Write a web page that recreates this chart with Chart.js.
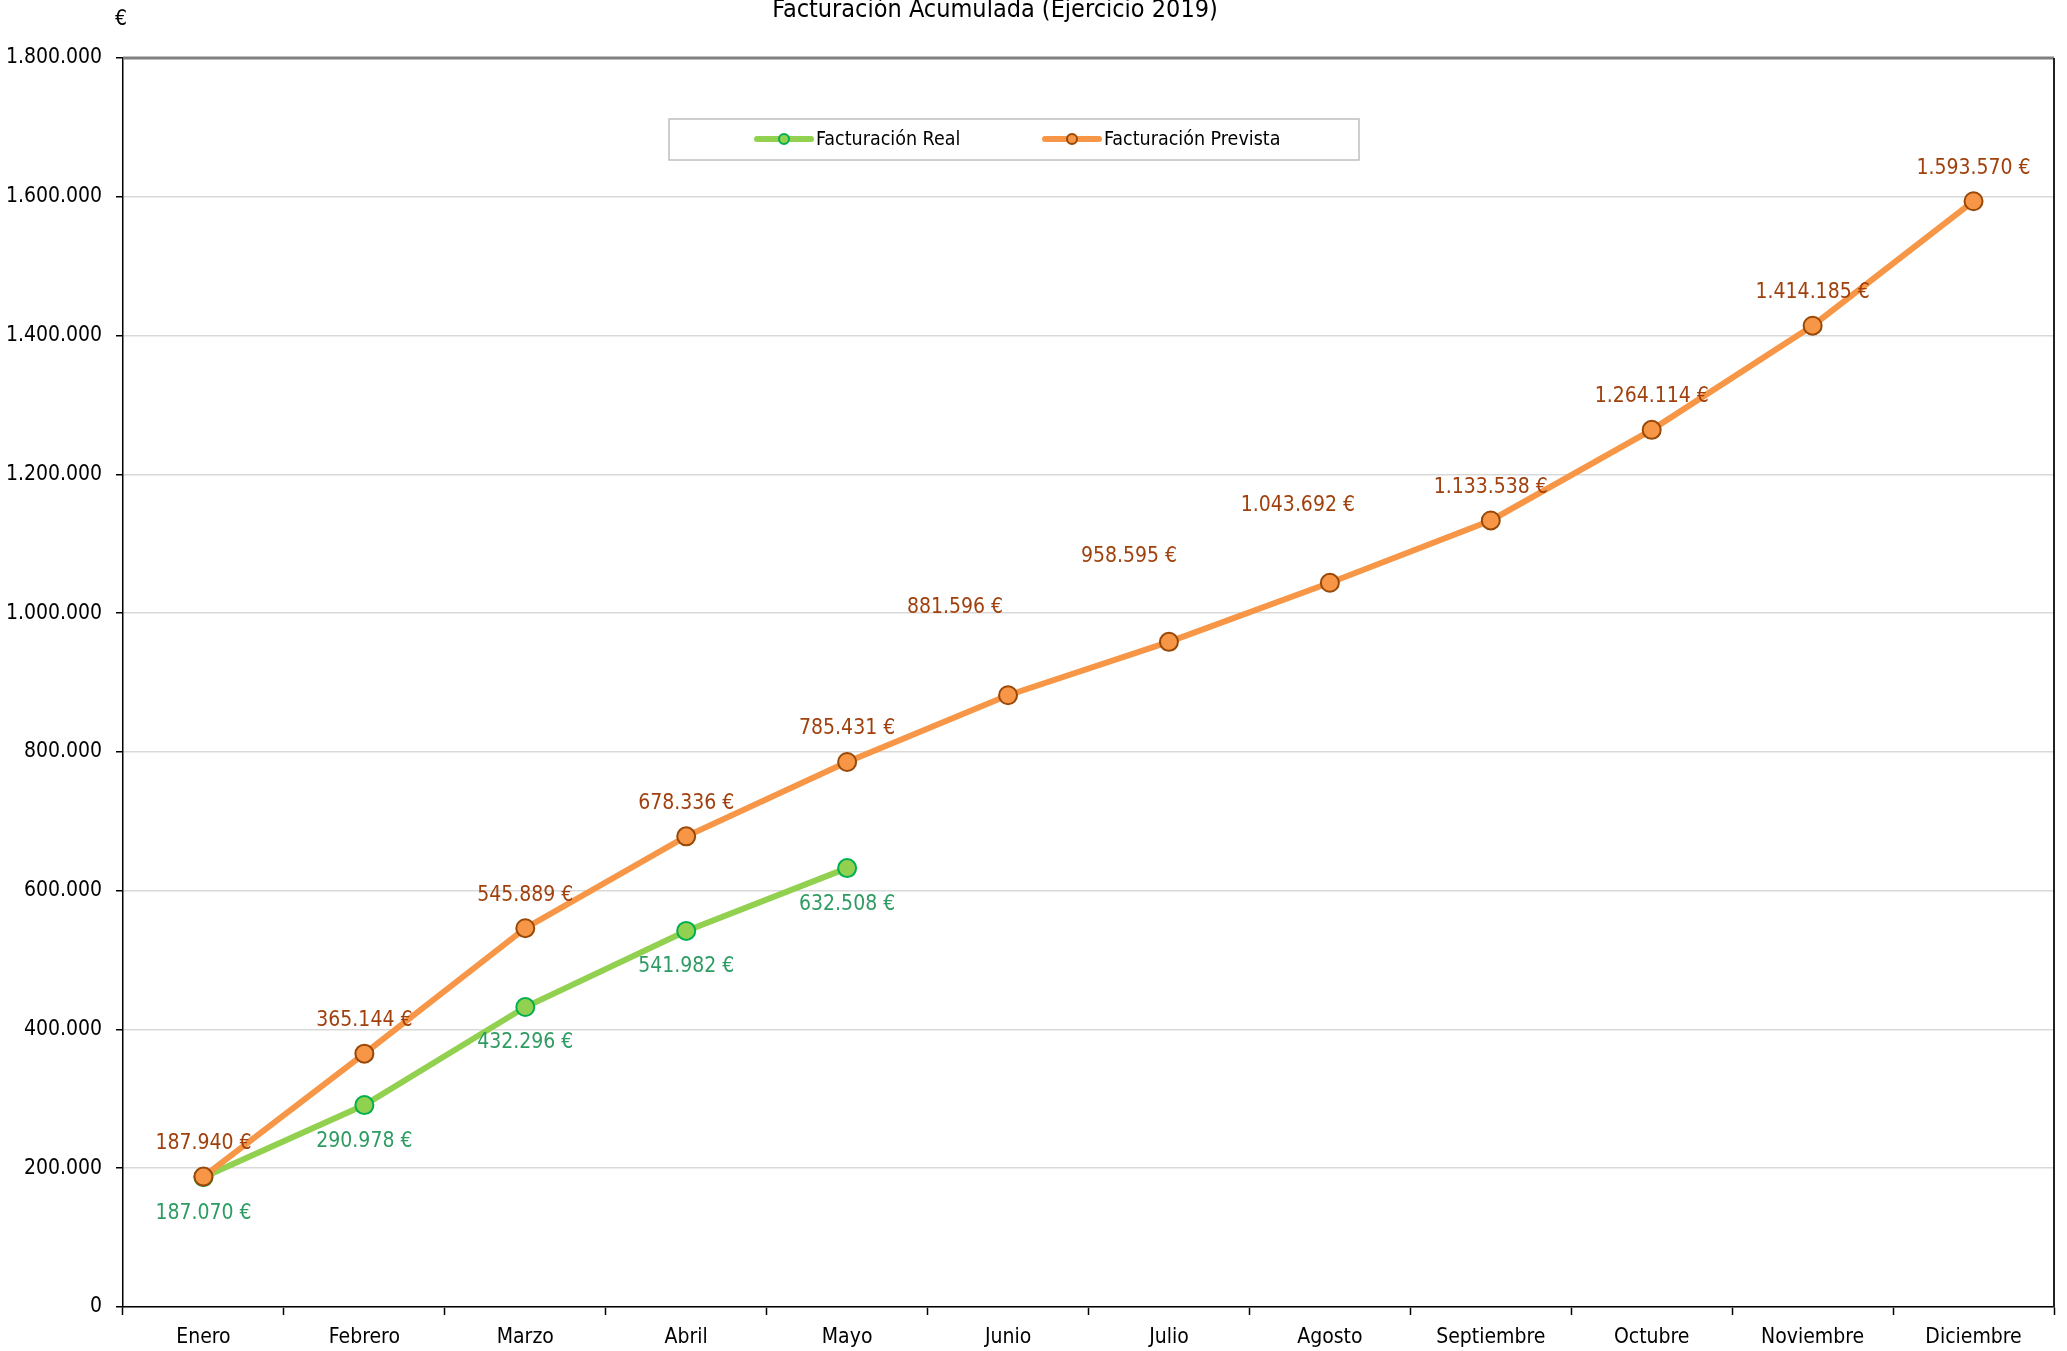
<!DOCTYPE html>
<html lang="es">
<head>
<meta charset="utf-8">
<title>Facturación Acumulada (Ejercicio 2019)</title>
<script src="https://cdn.jsdelivr.net/npm/chart.js@4.4.1/dist/chart.umd.min.js"></script>
<style>
  html, body { margin: 0; padding: 0; background: #fff; }
  #wrap { width: 2067px; height: 1351px; }
</style>
</head>
<body>
<div id="wrap"><canvas id="chart" width="2067" height="1351"></canvas></div>
<script>
const months = ['Enero', 'Febrero', 'Marzo', 'Abril', 'Mayo', 'Junio', 'Julio',
  'Agosto', 'Septiembre', 'Octubre', 'Noviembre', 'Diciembre'];
const realValues = [187070, 290978, 432296, 541982, 632508];
const forecastValues = [187940, 365144, 545889, 678336, 785431, 881596, 958595,
  1043692, 1133538, 1264114, 1414185, 1593570];
const yTicks = [0, 200000, 400000, 600000, 800000, 1000000, 1200000, 1400000, 1600000, 1800000];

const FONT = '"DejaVu Sans Condensed", "DejaVu Sans", sans-serif';
const ORANGE = '#F79646', ORANGE_DARK = '#984807', ORANGE_TEXT = '#A0410D';
const GREEN = '#92D050', GREEN_DARK = '#00B050', GREEN_TEXT = '#2E9C62';

// moved labels (Excel had them dragged by hand), in px relative to the point
const forecastLabelShift = { 5: [-53, -88], 6: [-40, -85], 7: [-32, -77] };

function fmt(v) {
  return String(v).replace(/\B(?=(\d{3})+(?!\d))/g, '.');
}

/**
 * Data labels for both series
 */
const valueLabels = {
  id: 'valueLabels',
  afterDatasetsDraw(chart) {
    const ctx = chart.ctx;
    ctx.save();
    ctx.font = '21px ' + FONT;
    ctx.textAlign = 'center';
    ctx.textBaseline = 'middle';
    chart.data.datasets.forEach((ds, i) => {
      const meta = chart.getDatasetMeta(i);
      meta.data.forEach((pt, j) => {
        const v = ds.data[j];
        if (v == null) return;
        let dx = 0, dy;
        if (ds.key === 'real') {
          dy = 36;
          ctx.fillStyle = GREEN_TEXT;
        } else {
          dy = -33;
          if (forecastLabelShift[j]) [dx, dy] = forecastLabelShift[j];
          ctx.fillStyle = ORANGE_TEXT;
        }
        ctx.fillText(fmt(v) + ' €', pt.x + dx, pt.y + dy);
      });
    });
    ctx.restore();
  }
};

/**
 * Title, unit, plot frame and legend box
 */
const decorations = {
  id: 'decorations',
  afterDraw(chart) {
    const ctx = chart.ctx;
    const a = chart.chartArea;
    ctx.save();

    // frame top/right
    ctx.strokeStyle = '#808080';
    ctx.lineWidth = 3;
    ctx.beginPath();
    ctx.moveTo(a.left, a.top);
    ctx.lineTo(a.right, a.top);
    ctx.stroke();
    ctx.strokeStyle = '#222';
    ctx.lineWidth = 2;
    ctx.beginPath();
    ctx.moveTo(a.right, a.top);
    ctx.lineTo(a.right, a.bottom);
    ctx.stroke();

    ctx.fillStyle = '#000';
    ctx.font = '25px ' + FONT;
    ctx.textAlign = 'center';
    ctx.textBaseline = 'alphabetic';
    ctx.fillText('Facturación Acumulada (Ejercicio 2019)', 995, 17);

    ctx.font = '21px ' + FONT;
    ctx.textBaseline = 'middle';
    ctx.fillText('€', 121, 20);

    // legend
    ctx.fillStyle = '#fff';
    ctx.fillRect(669, 119, 690, 41);
    ctx.strokeStyle = '#bfbfbf';
    ctx.lineWidth = 1.5;
    ctx.strokeRect(669, 119, 690, 41);

    const items = [
      { text: 'Facturación Real', x: 757, line: GREEN, edge: GREEN_DARK },
      { text: 'Facturación Prevista', x: 1045, line: ORANGE, edge: ORANGE_DARK }
    ];
    const y = 139;
    items.forEach(it => {
      ctx.strokeStyle = it.line;
      ctx.lineWidth = 6;
      ctx.lineCap = 'round';
      ctx.beginPath();
      ctx.moveTo(it.x, y);
      ctx.lineTo(it.x + 54, y);
      ctx.stroke();
      ctx.beginPath();
      ctx.arc(it.x + 27, y, 5, 0, Math.PI * 2);
      ctx.fillStyle = it.line;
      ctx.fill();
      ctx.strokeStyle = it.edge;
      ctx.lineWidth = 2;
      ctx.stroke();
      ctx.fillStyle = '#000';
      ctx.font = '19.5px ' + FONT;
      ctx.textAlign = 'left';
      ctx.fillText(it.text, it.x + 59, y + 1);
    });
    ctx.restore();
  }
};

Chart.defaults.font.family = FONT;
Chart.defaults.color = '#000';

new Chart(document.getElementById('chart').getContext('2d'), {
  type: 'line',
  data: {
    labels: months,
    datasets: [
      {
        key: 'real',
        label: 'Facturación Real',
        data: realValues,
        borderColor: GREEN,
        backgroundColor: GREEN,
        pointBackgroundColor: GREEN,
        pointBorderColor: GREEN_DARK,
        borderWidth: 6,
        pointRadius: 9,
        pointBorderWidth: 2,
        tension: 0,
        order: 1
      },
      {
        key: 'forecast',
        label: 'Facturación Prevista',
        data: forecastValues,
        borderColor: ORANGE,
        backgroundColor: ORANGE,
        pointBackgroundColor: ORANGE,
        pointBorderColor: ORANGE_DARK,
        borderWidth: 6,
        pointRadius: 9,
        pointBorderWidth: 2,
        tension: 0,
        order: 0
      }
    ]
  },
  options: {
    responsive: false,
    animation: false,
    layout: { padding: { top: 58, right: 13, left: 0, bottom: 0 } },
    plugins: {
      legend: { display: false },
      title: { display: false },
      tooltip: { enabled: false }
    },
    scales: {
      x: {
        offset: true,
        grid: {
          offset: true,
          drawOnChartArea: false,
          tickLength: 8,
          tickColor: '#000',
          tickWidth: 1.5
        },
        border: { color: '#000', width: 1.5 },
        ticks: { font: { size: 21 }, color: '#000', padding: 10, maxRotation: 0, autoSkip: false },
        afterFit(scale) { scale.height = 44; }
      },
      y: {
        min: 0,
        max: 1800000,
        afterBuildTicks(scale) { scale.ticks = yTicks.map(v => ({ value: v })); },
        grid: {
          color: '#d9d9d9',
          lineWidth: 1.5,
          tickLength: 7,
          tickColor: '#000',
          tickWidth: 1.5
        },
        border: { color: '#000', width: 1.5 },
        ticks: {
          font: { size: 21 },
          color: '#000',
          padding: 14,
          callback: v => fmt(v)
        },
        afterFit(scale) { scale.width = 123; }
      }
    }
  },
  plugins: [valueLabels, decorations]
});
</script>
</body>
</html>
